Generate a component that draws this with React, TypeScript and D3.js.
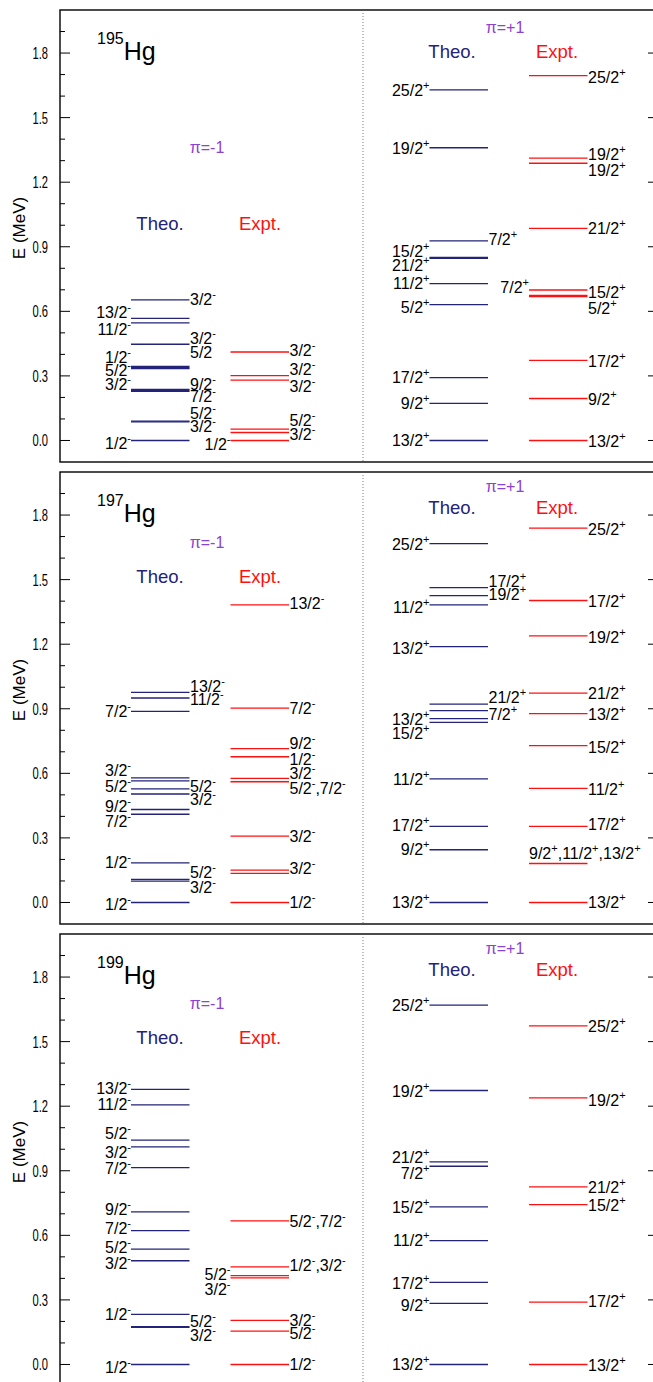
import React, { useEffect, useRef } from "react";
import * as d3 from "d3";

type Lab = [string, number];

const isotopes = ["195", "197", "199"];

// 195Hg, negative parity
const theoNeg195 = [0.653, 0.567, 0.546, 0.447, 0.344, 0.339, 0.334, 0.237, 0.232, 0.228, 0.09, 0.086, 0.0];
const theoNeg195L: Lab[] = [["13/2-", 0.594], ["11/2-", 0.516], ["1/2-", 0.385], ["5/2-", 0.326], ["3/2-", 0.26], ["1/2-", -0.014]];
const theoNeg195R: Lab[] = [["3/2-", 0.656], ["3/2-", 0.473], ["5/2", 0.408], ["9/2-", 0.26], ["7/2-", 0.203], ["5/2-", 0.126], ["3/2-", 0.064]];
const exptNeg195 = [0.411, 0.301, 0.28, 0.053, 0.037, 0.0];
const exptNeg195L: Lab[] = [["1/2-", -0.02]];
const exptNeg195R: Lab[] = [["3/2-", 0.419], ["3/2-", 0.33], ["3/2-", 0.25], ["5/2-", 0.093], ["3/2-", 0.028]];
// 195Hg, positive parity
const theoPos195 = [1.629, 1.36, 0.927, 0.85, 0.846, 0.729, 0.631, 0.292, 0.172, 0.0];
const theoPos195L: Lab[] = [["25/2+", 1.627], ["19/2+", 1.358], ["15/2+", 0.88], ["21/2+", 0.814], ["11/2+", 0.729], ["5/2+", 0.617], ["17/2+", 0.292], ["9/2+", 0.172], ["13/2+", 0.0]];
const theoPos195R: Lab[] = [["7/2+", 0.935]];
const exptPos195 = [1.695, 1.312, 1.288, 0.985, 0.699, 0.674, 0.668, 0.372, 0.195, 0.0];
const exptPos195L: Lab[] = [["7/2+", 0.713]];
const exptPos195R: Lab[] = [["25/2+", 1.687], ["19/2+", 1.327], ["19/2+", 1.257], ["21/2+", 0.983], ["15/2+", 0.69], ["5/2+", 0.613], ["17/2+", 0.369], ["9/2+", 0.191], ["13/2+", -0.003]];

// 197Hg, negative parity
const theoNeg197 = [0.976, 0.95, 0.888, 0.579, 0.565, 0.528, 0.504, 0.432, 0.41, 0.184, 0.107, 0.099, 0.0];
const theoNeg197L: Lab[] = [["7/2-", 0.888], ["3/2-", 0.613], ["5/2-", 0.54], ["9/2-", 0.447], ["7/2-", 0.377], ["1/2-", 0.184], ["1/2-", -0.01]];
const theoNeg197R: Lab[] = [["13/2-", 1.004], ["11/2-", 0.945], ["5/2-", 0.54], ["3/2-", 0.478], ["5/2-", 0.138], ["3/2-", 0.068]];
const exptNeg197 = [1.383, 0.903, 0.715, 0.677, 0.577, 0.561, 0.308, 0.15, 0.135, 0.0];
const exptNeg197R: Lab[] = [["13/2-", 1.39], ["7/2-", 0.9], ["9/2-", 0.741], ["1/2-", 0.667], ["3/2-", 0.599], ["5/2-,7/2-", 0.532], ["3/2-", 0.308], ["3/2-", 0.156], ["1/2-", 0.0]];
// 197Hg, positive parity
const theoPos197 = [1.667, 1.463, 1.426, 1.383, 1.189, 0.922, 0.891, 0.854, 0.837, 0.574, 0.354, 0.245, 0.0];
const theoPos197L: Lab[] = [["25/2+", 1.664], ["11/2+", 1.37], ["13/2+", 1.182], ["13/2+", 0.852], ["15/2+", 0.787], ["11/2+", 0.574], ["17/2+", 0.357], ["9/2+", 0.245], ["13/2+", 0.0]];
const theoPos197R: Lab[] = [["17/2+", 1.491], ["19/2+", 1.432], ["21/2+", 0.955], ["7/2+", 0.872]];
const exptPos197 = [1.739, 1.403, 1.239, 0.973, 0.877, 0.729, 0.53, 0.354, 0.181, 0.0];
const exptPos197R: Lab[] = [["25/2+", 1.735], ["17/2+", 1.398], ["19/2+", 1.231], ["21/2+", 0.973], ["13/2+", 0.872], ["15/2+", 0.722], ["11/2+", 0.527], ["17/2+", 0.362], ["13/2+", 0.0]];
const exptPos197A: Lab[] = [["9/2+,11/2+,13/2+", 0.227]];

// 199Hg, negative parity
const theoNeg199 = [1.278, 1.206, 1.042, 1.011, 0.915, 0.709, 0.622, 0.536, 0.482, 0.233, 0.176, 0.172, 0.0];
const theoNeg199L: Lab[] = [["13/2-", 1.282], ["11/2-", 1.206], ["5/2-", 1.073], ["3/2-", 0.987], ["7/2-", 0.91], ["9/2-", 0.72], ["7/2-", 0.631], ["5/2-", 0.546], ["3/2-", 0.471], ["1/2-", 0.233], ["1/2-", -0.012]];
const theoNeg199R: Lab[] = [["5/2-", 0.201], ["3/2-", 0.135]];
const exptNeg199 = [0.667, 0.453, 0.413, 0.402, 0.205, 0.155, 0.0];
const exptNeg199L: Lab[] = [["5/2-", 0.419], ["3/2-", 0.347]];
const exptNeg199R: Lab[] = [["5/2-,7/2-", 0.667], ["1/2-,3/2-", 0.46], ["3/2-", 0.205], ["5/2-", 0.143], ["1/2-", 0.0]];
// 199Hg, positive parity
const theoPos199 = [1.67, 1.273, 0.941, 0.921, 0.732, 0.575, 0.381, 0.284, 0.0];
const theoPos199L: Lab[] = [["25/2+", 1.67], ["19/2+", 1.27], ["21/2+", 0.961], ["7/2+", 0.89], ["15/2+", 0.732], ["11/2+", 0.575], ["17/2+", 0.375], ["9/2+", 0.274], ["13/2+", 0.0]];
const exptPos199 = [1.573, 1.239, 0.825, 0.743, 0.29, 0.0];
const exptPos199R: Lab[] = [["25/2+", 1.569], ["19/2+", 1.228], ["21/2+", 0.825], ["15/2+", 0.741], ["17/2+", 0.293], ["13/2+", -0.003]];

// heading positions (MeV) of each panel
const piNegE = [1.363, 1.672, 1.679];
const headNegE = [1.009, 1.514, 1.521];
const piPosE = [1.921, 1.932, 1.935];
const headPosE = [1.809, 1.836, 1.835];

const yTicks = [0.0, 0.3, 0.6, 0.9, 1.2, 1.5, 1.8];

const FONT = "'Liberation Sans', Arial, Helvetica, sans-serif";
const NAVY = "#23237a";
const RED = "#ff1010";
const PURPLE = "#8a42d2";

interface Col { slot: number; color: string; lines: number[]; left: Lab[]; right: Lab[]; above?: Lab[] }

const panels: Col[][] = [
  [
    { slot: 0, color: NAVY, lines: theoNeg195, left: theoNeg195L, right: theoNeg195R },
    { slot: 1, color: RED, lines: exptNeg195, left: exptNeg195L, right: exptNeg195R },
    { slot: 3, color: NAVY, lines: theoPos195, left: theoPos195L, right: theoPos195R },
    { slot: 4, color: RED, lines: exptPos195, left: exptPos195L, right: exptPos195R },
  ],
  [
    { slot: 0, color: NAVY, lines: theoNeg197, left: theoNeg197L, right: theoNeg197R },
    { slot: 1, color: RED, lines: exptNeg197, left: [], right: exptNeg197R },
    { slot: 3, color: NAVY, lines: theoPos197, left: theoPos197L, right: theoPos197R },
    { slot: 4, color: RED, lines: exptPos197, left: [], right: exptPos197R, above: exptPos197A },
  ],
  [
    { slot: 0, color: NAVY, lines: theoNeg199, left: theoNeg199L, right: theoNeg199R },
    { slot: 1, color: RED, lines: exptNeg199, left: exptNeg199L, right: exptNeg199R },
    { slot: 3, color: NAVY, lines: theoPos199, left: theoPos199L, right: [] },
    { slot: 4, color: RED, lines: exptPos199, left: [], right: exptPos199R },
  ],
];

const App = () => {
  const svgRef = useRef<SVGSVGElement>(null);

  useEffect(() => {
    const svg = d3.select(svgRef.current);
    svg.selectAll("*").remove();

    const width = 653;
    const height = 1382;
    const panelH = 452;
    const gap = 10;
    const left = 60;
    const right = 658;
    const divider = 363;
    const lineW = 58.5;

    svg.attr("width", width).attr("height", height);

    const xs = d3.scaleLinear().domain([0, 4]).range([131, 529]);

    // level label with superscript parity
    const addLabel = (g: any, text: string, x: number, yy: number, anchor: string) => {
      const t = g.append("text")
        .attr("x", x)
        .attr("y", yy + 5.6)
        .attr("text-anchor", anchor)
        .attr("font-size", 16)
        .attr("fill", "#000");
      let sup = false;
      text.split(",").forEach((tok, j) => {
        const m = tok.match(/^(.*?)([+-]?)$/) as RegExpMatchArray;
        t.append("tspan")
          .attr("dy", sup ? 7 : 0)
          .text((j > 0 ? "," : "") + m[1]);
        sup = false;
        if (m[2]) {
          t.append("tspan")
            .attr("dy", -7)
            .attr("font-size", 11)
            .text(m[2]);
          sup = true;
        }
      });
    };

    panels.forEach((cols, i) => {
      const top = 10 + i * (panelH + gap);
      const y = d3.scaleLinear().domain([-0.1, 2.0]).range([top + panelH, top]);
      const g = svg.append("g").attr("font-family", FONT);

      // frame
      g.append("rect")
        .attr("x", left).attr("y", top)
        .attr("width", right - left).attr("height", panelH)
        .attr("fill", "none").attr("stroke", "#000").attr("stroke-width", 1.4);

      g.append("line")
        .attr("x1", divider).attr("x2", divider)
        .attr("y1", top).attr("y2", top + panelH)
        .attr("stroke", "#555").attr("stroke-width", 0.8)
        .attr("stroke-dasharray", "1,2");

      // ticks
      d3.range(0, 20).forEach(k => {
        const major = k % 3 === 0;
        const len = major ? 10 : 5;
        const yy = y(k / 10);
        g.append("line").attr("x1", left).attr("x2", left + len).attr("y1", yy).attr("y2", yy)
          .attr("stroke", "#000").attr("stroke-width", 1);
        g.append("line").attr("x1", right).attr("x2", right - len).attr("y1", yy).attr("y2", yy)
          .attr("stroke", "#000").attr("stroke-width", 1);
      });

      yTicks.forEach(v => {
        g.append("text")
          .attr("x", 48).attr("y", y(v) + 6)
          .attr("text-anchor", "end")
          .attr("font-size", 16.5)
          .attr("textLength", 15.5)
          .attr("lengthAdjust", "spacingAndGlyphs")
          .text(d3.format(".1f")(v));
      });

      g.append("text")
        .attr("transform", `translate(25,${top + panelH / 2 - 8}) rotate(-90)`)
        .attr("text-anchor", "middle")
        .attr("font-size", 17)
        .text("E (MeV)");

      // isotope title
      const title = g.append("text").attr("x", 97).attr("y", top + 50);
      title.append("tspan").attr("font-size", 16).attr("dy", -16).text(isotopes[i]);
      title.append("tspan").attr("font-size", 25).attr("dy", 16).text("Hg");

      // headings
      const head = (txt: string, x: number, e: number, color: string, size: number) =>
        g.append("text").attr("x", x).attr("y", y(e) + size * 0.35)
          .attr("text-anchor", "middle").attr("font-size", size).attr("fill", color).text(txt);
      head("π=-1", 207, piNegE[i], PURPLE, 16);
      head("Theo.", 160, headNegE[i], NAVY, 18.5);
      head("Expt.", 260, headNegE[i], RED, 18.5);
      head("π=+1", 505, piPosE[i], PURPLE, 16);
      head("Theo.", 452, headPosE[i], NAVY, 18.5);
      head("Expt.", 557, headPosE[i], RED, 18.5);

      // levels
      cols.forEach(c => {
        const x0 = xs(c.slot);
        const x1 = x0 + lineW;
        c.lines.forEach(e => {
          g.append("line")
            .attr("x1", x0).attr("x2", x1)
            .attr("y1", y(e)).attr("y2", y(e))
            .attr("stroke", c.color).attr("stroke-width", 1.3);
        });
        c.left.forEach(([t, e]) => addLabel(g, t, x0, y(e), "end"));
        c.right.forEach(([t, e]) => addLabel(g, t, x1 + 0.5, y(e), "start"));
        (c.above || []).forEach(([t, e]) => addLabel(g, t, x0, y(e), "start"));
      });
    });
  }, []);

  return (
    <svg ref={svgRef} style={{ position: "absolute", left: 0, top: 0, background: "#fff" }} />
  );
};

export default App;
